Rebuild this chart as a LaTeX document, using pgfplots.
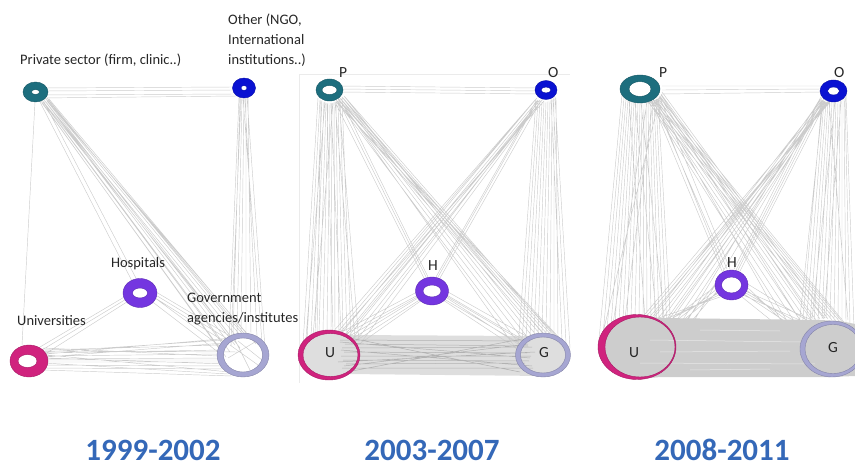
\documentclass[border=0pt]{standalone}
\usepackage{pgfplots}
\pgfplotsset{compat=1.18}
\usepackage{fontspec}
\setmainfont{Carlito}
\definecolor{tealP}{HTML}{1D6E7E}
\definecolor{blueO}{HTML}{0A12D2}
\definecolor{purpH}{HTML}{7436E0}
\definecolor{pinkU}{HTML}{D0237E}
\definecolor{lavG}{HTML}{A6A6D2}
\definecolor{edgegray}{HTML}{CCCCCC}
\definecolor{bandgray}{HTML}{CDCDCD}
\definecolor{yearblue}{HTML}{3468B8}
\pgfkeys{/ring/.cd,Rx/.initial=10,Ry/.initial=8,rx/.initial=4,ry/.initial=3,dx/.initial=0}
\pgfdeclareplotmark{ring}{%
  \pgfpathellipse{\pgfpointorigin}{\pgfpoint{\pgfkeysvalueof{/ring/Rx}pt}{0pt}}{\pgfpoint{0pt}{\pgfkeysvalueof{/ring/Ry}pt}}%
  \pgfpathellipse{\pgfpoint{\pgfkeysvalueof{/ring/dx}pt}{0pt}}{\pgfpoint{\pgfkeysvalueof{/ring/rx}pt}{0pt}}{\pgfpoint{0pt}{\pgfkeysvalueof{/ring/ry}pt}}%
  \pgfseteorule\pgfusepathqfillstroke}
\pgfplotsset{
  nodering/.style n args={6}{only marks, mark=ring, mark options={/ring/Rx=#1,/ring/Ry=#2,/ring/rx=#3,/ring/ry=#4,/ring/dx=#5,fill=#6,draw=#6!80!black,line width=0.4pt}},
  edge/.style={no marks, draw=edgegray, line width=0.45pt},
}
\begin{document}
\begin{tikzpicture}
\useasboundingbox (0,0) rectangle (855pt,468pt);
\begin{axis}[at={(0,0)}, anchor=south west, scale only axis, width=855pt, height=468pt,
  xmin=0, xmax=855, ymin=0, ymax=468, y dir=reverse, hide axis, unbounded coords=jump]
% ---------------- Panel 1 (1999-2002) ----------------
\addplot[edge] coordinates {
(44,88) (234,87) (nan,nan) (44,91) (235,90) (nan,nan) (43,95) (236,94) (nan,nan) (40,98) (238,96) (nan,nan)
(35,102) (22,345) (nan,nan) (40,102) (133,283) (nan,nan) (44,102) (138,282) (nan,nan)
(42,100) (232,338) (nan,nan) (44,100) (236,336) (nan,nan) (46,99) (240,335) (nan,nan) (47,98) (244,336) (nan,nan)
(45,101) (228,342) (nan,nan) (43,102) (224,346) (nan,nan) (48,100) (248,338) (nan,nan) (41,101) (220,350) (nan,nan)
(46,102) (235,345) (nan,nan) (44,103) (230,352) (nan,nan) (49,99) (252,340) (nan,nan) (47,101) (240,348) (nan,nan)
(42,103) (226,357) (nan,nan) (45,98) (256,344) (nan,nan)
(240,97) (233,336) (nan,nan) (242,98) (237,334) (nan,nan) (244,98) (241,333) (nan,nan) (246,98) (246,333) (nan,nan)
(248,97) (251,334) (nan,nan) (245,98) (257,337) (nan,nan) (239,97) (229,340) (nan,nan) (243,98) (262,342) (nan,nan)
(247,97) (265,348) (nan,nan) (241,98) (231,346) (nan,nan)
(128,298) (42,350) (nan,nan) (130,300) (45,354) (nan,nan) (126,296) (40,347) (nan,nan)
(152,296) (222,340) (nan,nan) (154,294) (226,338) (nan,nan) (155,298) (220,346) (nan,nan) (150,300) (218,352) (nan,nan) (156,292) (230,336) (nan,nan)
(44,350) (220,345) (nan,nan) (45,353) (222,350) (nan,nan) (46,356) (221,354) (nan,nan) (46,359) (222,358) (nan,nan)
(45,362) (223,362) (nan,nan) (44,365) (224,366) (nan,nan) (42,368) (226,369) (nan,nan) (44,352) (225,340) (nan,nan)
(46,357) (224,343) (nan,nan) (45,360) (220,360) (nan,nan) (43,348) (218,356) (nan,nan) (47,355) (230,372) (nan,nan)
(44,363) (228,374) (nan,nan) (46,354) (232,338) (nan,nan) (42,370) (232,376) (nan,nan) (47,358) (226,364) (nan,nan)
(45,351) (240,352) (nan,nan)
(230,345) (258,365) (nan,nan) (228,358) (255,342) (nan,nan) (235,340) (250,370) (nan,nan) (238,341) (262,360)
};
% ---------------- Panel 2 (2003-2007) ----------------
\addplot[no marks, draw=black!8, line width=0.4pt] coordinates {(299,383) (299,74) (570,74)};
\addplot[fill=black!13, draw=none] coordinates {
(305,342) (315,334) (330,331) (345,335) (530,336) (545,334) (560,338) (568,350) (565,368) (545,376) (345,374) (330,379) (310,374) (300,360)};
\addplot[edge] coordinates {
(338,86) (537,88) (nan,nan) (338,89) (538,91) (nan,nan) (338,92) (537,94) (nan,nan)
(318,98) (303,345) (nan,nan) (320,100) (307,340) (nan,nan) (322,101) (311,337) (nan,nan) (324,102) (315,335) (nan,nan)
(326,103) (319,333) (nan,nan) (328,103) (323,332) (nan,nan) (330,103) (327,332) (nan,nan) (332,103) (331,332) (nan,nan)
(334,102) (335,333) (nan,nan) (336,101) (339,334) (nan,nan) (338,100) (343,335) (nan,nan) (340,99) (347,337) (nan,nan)
(342,97) (351,339) (nan,nan) (325,102) (305,350) (nan,nan) (331,103) (341,333) (nan,nan) (335,102) (355,338) (nan,nan)
(321,100) (317,336) (nan,nan) (339,100) (359,342) (nan,nan) (327,103) (333,333) (nan,nan) (333,103) (313,336) (nan,nan)
(336,100) (520,345) (nan,nan) (338,99) (524,341) (nan,nan) (340,98) (528,338) (nan,nan) (342,97) (532,336) (nan,nan)
(344,96) (536,335) (nan,nan) (337,101) (540,334) (nan,nan) (339,100) (544,334) (nan,nan) (341,99) (548,335) (nan,nan)
(343,98) (552,336) (nan,nan) (345,97) (556,338) (nan,nan) (336,102) (560,340) (nan,nan) (340,101) (564,343) (nan,nan)
(338,98) (517,350) (nan,nan) (344,99) (545,336) (nan,nan)
(536,99) (340,335) (nan,nan) (538,100) (344,336) (nan,nan) (540,100) (348,337) (nan,nan) (542,100) (352,339) (nan,nan)
(537,98) (336,334) (nan,nan) (539,101) (356,341) (nan,nan) (541,101) (360,344) (nan,nan) (535,100) (332,333) (nan,nan)
(543,99) (346,336) (nan,nan) (544,101) (338,335) (nan,nan)
(536,100) (518,348) (nan,nan) (538,101) (522,342) (nan,nan) (540,101) (526,338) (nan,nan) (542,102) (530,336) (nan,nan)
(544,102) (534,334) (nan,nan) (546,102) (538,333) (nan,nan) (548,101) (542,333) (nan,nan) (550,101) (546,333) (nan,nan)
(552,100) (550,334) (nan,nan) (554,99) (554,335) (nan,nan) (556,98) (558,337) (nan,nan) (551,99) (562,340) (nan,nan)
(553,98) (566,343) (nan,nan) (555,97) (570,348) (nan,nan)
(420,294) (342,336) (nan,nan) (419,296) (346,338) (nan,nan) (418,298) (350,340) (nan,nan) (421,299) (354,342) (nan,nan)
(417,292) (338,334) (nan,nan) (422,300) (358,345) (nan,nan)
(445,294) (520,338) (nan,nan) (446,296) (522,341) (nan,nan) (447,298) (518,344) (nan,nan) (444,299) (524,346) (nan,nan)
(448,292) (526,336) (nan,nan) (443,300) (516,348) (nan,nan)
(426,277) (340,104) (nan,nan) (428,277) (342,102) (nan,nan) (424,278) (336,104) (nan,nan)
(438,277) (538,100) (nan,nan) (436,277) (536,101) (nan,nan) (440,278) (540,102)
};
\addplot[no marks, draw=black!30, line width=0.5pt] coordinates {
(340,340) (530,341) (nan,nan) (345,344) (528,346) (nan,nan) (342,348) (532,347) (nan,nan) (344,352) (527,353) (nan,nan)
(341,356) (531,356) (nan,nan) (343,360) (529,361) (nan,nan) (346,364) (525,363) (nan,nan) (342,368) (533,368) (nan,nan)
(340,342) (530,358) (nan,nan) (344,366) (528,344) (nan,nan) (338,362) (535,352) (nan,nan) (341,350) (532,366) (nan,nan)
(350,338) (520,372) (nan,nan) (352,371) (522,339)
};
% ---------------- Panel 3 (2008-2011) ----------------
\addplot[edge] coordinates {
(662,86) (823,86) (nan,nan) (662,90) (823,89) (nan,nan) (662,94) (823,92) (nan,nan)
(624,98) (603,335) (nan,nan) (626,99) (607,330) (nan,nan) (628,100) (611,326) (nan,nan) (630,101) (615,323) (nan,nan)
(632,102) (619,321) (nan,nan) (634,102) (623,319) (nan,nan) (636,103) (627,318) (nan,nan) (638,103) (631,317) (nan,nan)
(640,103) (635,317) (nan,nan) (642,103) (639,317) (nan,nan) (644,103) (643,317) (nan,nan) (646,102) (647,318) (nan,nan)
(648,102) (651,319) (nan,nan) (650,101) (655,320) (nan,nan) (652,101) (659,322) (nan,nan) (654,100) (663,324) (nan,nan)
(656,99) (667,327) (nan,nan) (658,98) (671,331) (nan,nan) (660,96) (600,345) (nan,nan) (629,100) (645,318) (nan,nan)
(635,103) (657,321) (nan,nan) (647,102) (613,324) (nan,nan) (653,101) (625,318) (nan,nan) (641,103) (665,326) (nan,nan)
(622,95) (598,350) (nan,nan)
(650,101) (800,330) (nan,nan) (652,101) (804,326) (nan,nan) (654,100) (808,323) (nan,nan) (656,99) (812,321) (nan,nan)
(658,98) (816,320) (nan,nan) (660,96) (820,319) (nan,nan) (661,94) (824,319) (nan,nan) (662,92) (828,319) (nan,nan)
(651,101) (832,320) (nan,nan) (653,100) (836,321) (nan,nan) (655,100) (840,322) (nan,nan) (657,99) (844,324) (nan,nan)
(659,97) (848,327) (nan,nan) (649,102) (796,335) (nan,nan) (661,95) (812,318) (nan,nan) (656,100) (792,340) (nan,nan)
(648,102) (825,318) (nan,nan) (660,97) (803,325) (nan,nan)
(822,98) (660,322) (nan,nan) (823,100) (664,323) (nan,nan) (824,101) (668,325) (nan,nan) (825,102) (672,327) (nan,nan)
(826,102) (676,330) (nan,nan) (827,102) (652,320) (nan,nan) (828,102) (656,321) (nan,nan) (821,97) (680,333) (nan,nan)
(829,102) (648,319) (nan,nan) (830,102) (644,319) (nan,nan) (824,99) (684,338) (nan,nan) (826,100) (640,320) (nan,nan)
(828,101) (670,318) (nan,nan) (822,100) (646,325) (nan,nan)
(822,100) (802,330) (nan,nan) (824,101) (806,326) (nan,nan) (826,102) (810,323) (nan,nan) (828,102) (814,321) (nan,nan)
(830,102) (818,320) (nan,nan) (832,102) (822,319) (nan,nan) (834,102) (826,318) (nan,nan) (836,102) (830,318) (nan,nan)
(838,102) (834,318) (nan,nan) (840,101) (838,319) (nan,nan) (842,100) (842,320) (nan,nan) (844,99) (846,322) (nan,nan)
(845,97) (850,325) (nan,nan) (846,95) (854,328) (nan,nan) (823,101) (798,336) (nan,nan) (835,102) (812,319) (nan,nan)
(841,101) (824,318) (nan,nan) (829,102) (848,320) (nan,nan)
(716,286) (668,322) (nan,nan) (717,289) (672,324) (nan,nan) (718,292) (676,326) (nan,nan) (719,295) (664,320) (nan,nan)
(716,283) (680,328) (nan,nan) (720,297) (656,319) (nan,nan) (718,290) (684,330) (nan,nan) (717,294) (660,325) (nan,nan)
(746,286) (792,330) (nan,nan) (745,289) (796,327) (nan,nan) (744,292) (800,324) (nan,nan) (743,295) (804,322) (nan,nan)
(746,283) (808,321) (nan,nan) (742,297) (788,334) (nan,nan) (745,291) (812,320) (nan,nan) (744,294) (798,330) (nan,nan)
(724,270) (656,101) (nan,nan) (727,269) (654,101) (nan,nan) (722,271) (652,102) (nan,nan) (730,269) (660,98) (nan,nan)
(736,270) (822,100) (nan,nan) (738,270) (824,101) (nan,nan) (740,271) (826,102) (nan,nan) (734,269) (820,99)
};
\addplot[fill=bandgray, draw=none] coordinates {
(610,325) (625,317) (640,315) (660,318) (820,320) (840,321) (855,324) (855,376) (830,377) (660,377) (640,379) (620,375) (605,365) (600,350) (603,335)};
\addplot[no marks, draw=white, opacity=0.55, line width=0.5pt] coordinates {
(650,340) (800,342) (nan,nan) (660,352) (790,351) (nan,nan) (640,363) (815,364) (nan,nan) (700,330) (780,331) (nan,nan) (690,370) (770,369)
};
% ---------------- Rings ----------------
\addplot[nodering={12.5}{10}{4}{2.5}{0}{tealP}] coordinates {(35.5,92)};
\addplot[nodering={11.5}{10}{3}{2.5}{0}{blueO}] coordinates {(244,88)};
\addplot[nodering={17}{14.5}{7.5}{5}{0}{purpH}] coordinates {(140,293)};
\addplot[nodering={19}{16}{9.5}{6.5}{-1.5}{pinkU}] coordinates {(29,361)};
\addplot[nodering={26}{22}{19.5}{17}{0}{lavG}] coordinates {(243,355)};
\addplot[nodering={13.5}{11}{7.5}{4.5}{0}{tealP}] coordinates {(329.5,90)};
\addplot[nodering={11}{9.5}{5}{3}{0}{blueO}] coordinates {(546,90)};
\addplot[nodering={16.5}{14}{9}{6}{0}{purpH}] coordinates {(432,291)};
\addplot[nodering={31}{25}{27.5}{21.5}{1.5}{pinkU}] coordinates {(329,355)};
\addplot[nodering={27.5}{22}{22.5}{18}{0}{lavG}] coordinates {(543,355)};
\addplot[nodering={20}{14}{11}{7.5}{0}{tealP}] coordinates {(640,89)};
\addplot[nodering={13.5}{11}{6}{4}{0}{blueO}] coordinates {(833.5,91)};
\addplot[nodering={16.5}{15}{10}{8}{0}{purpH}] coordinates {(731.5,285)};
\addplot[nodering={39}{32.5}{35}{30}{3}{pinkU}] coordinates {(637,347)};
\addplot[nodering={32}{28}{28}{24.5}{1}{lavG}] coordinates {(832,349)};
% ---------------- Labels ----------------
\begin{scope}[every node/.style={font=\fontsize{14.5}{17}\selectfont, inner sep=0pt, text=black!85}]
\node[anchor=base west] at (axis cs:20,65) {Private sector (firm, clinic..)};
\node[anchor=base west] at (axis cs:228,25) {Other (NGO,};
\node[anchor=base west] at (axis cs:228,45) {International};
\node[anchor=base west] at (axis cs:228,65) {institutions..)};
\node[anchor=base] at (axis cs:138,268) {Hospitals};
\node[anchor=base west] at (axis cs:187,302) {Government};
\node[anchor=base west] at (axis cs:187,322) {agencies/institutes};
\node[anchor=base west] at (axis cs:17,325) {Universities};
\end{scope}
\begin{scope}[every node/.style={font=\fontsize{15.5}{18}\selectfont, inner sep=0pt, text=black!85, anchor=base west}]
\node at (axis cs:339,78) {P};
\node at (axis cs:548,78) {O};
\node at (axis cs:428,270) {H};
\node at (axis cs:325,357) {U};
\node at (axis cs:539,357) {G};
\node at (axis cs:659,78) {P};
\node at (axis cs:834,78) {O};
\node at (axis cs:727,267) {H};
\node at (axis cs:629,357) {U};
\node at (axis cs:828,352) {G};
\end{scope}
\begin{scope}[every node/.style={font=\bfseries\fontsize{31}{33}\selectfont, inner sep=0pt, text depth=0pt, text=yearblue, anchor=base}]
\node at (axis cs:153,460) {1999-2002};
\node at (axis cs:432,460) {2003-2007};
\node at (axis cs:722,460) {2008-2011};
\end{scope}
\end{axis}
\end{tikzpicture}
\end{document}
